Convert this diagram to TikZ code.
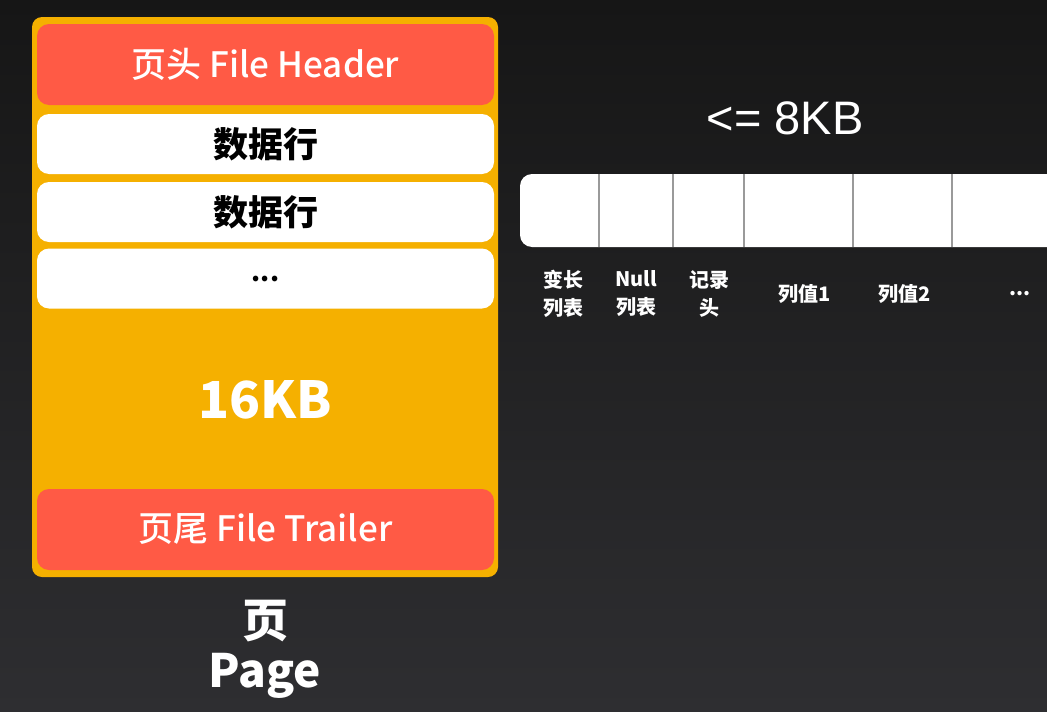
\documentclass[tikz,border=0pt]{standalone}
\usepackage{fontspec}
\setmainfont{Noto Sans CJK SC}
\newfontfamily\medfont{Noto Sans CJK SC Medium}
\newfontfamily\blackfont{Noto Sans CJK SC Black}
\newfontfamily\latinsans{Liberation Sans}
\begin{document}
\begin{tikzpicture}[x=1pt,y=-1pt,
  redbox/.style={fill=redc, rounded corners=12pt, minimum width=457pt, minimum height=81pt, inner sep=0pt, text=white, font=\medfont\fontsize{35}{35}\selectfont},
  rowbox/.style={fill=white, rounded corners=12pt, minimum width=457pt, minimum height=60pt, inner sep=0pt, text=black, font=\bfseries\fontsize{35}{35}\selectfont},
  cell/.style={minimum height=73pt, inner sep=0pt},
  divider/.style={draw=divc, line width=1.5pt},
  lbl/.style={text=white, align=center, font=\bfseries\fontsize{20}{28}\selectfont}
]
\definecolor{redc}{HTML}{FF5A45}
\definecolor{orangec}{HTML}{F5B000}
\definecolor{divc}{HTML}{9A9A9A}
\definecolor{bgtop}{HTML}{161616}
\definecolor{bgbot}{HTML}{2E2E31}
\useasboundingbox (0,0) rectangle (1047,712);
\clip (0,0) rectangle (1047,712);
\shade[top color=bgtop, bottom color=bgbot] (0,0) rectangle (1047,712);

% page
\fill[orangec, rounded corners=10pt] (32,17) rectangle (498,577);
\node[redbox] (header) at (265.5,64.5) {页头 File Header};
\node[rowbox] (row1) at (265.5,144) {数据行};
\node[rowbox] (row2) at (265.5,212) {数据行};
\node[rowbox, font=\bfseries\fontsize{26}{26}\selectfont] (row3) at (265.5,278.5) {...};
\node[text=white, font=\bfseries\fontsize{51}{51}\selectfont] (size) at (265,400) {16KB};
\node[redbox] (trailer) at (265.5,529.5) {页尾 File Trailer};
\node[text=white, font=\blackfont\fontsize{46}{46}\selectfont] (ye) at (265,621) {页};
\node[text=white, font=\blackfont\fontsize{46}{46}\selectfont] (page) at (265,676) {Page};

% record
\node[text=white, font=\latinsans\fontsize{47}{47}\selectfont] (limit) at (785,118) {<= 8KB};
\fill[white, rounded corners=12pt] (520,174) rectangle (1080,247);
\node[cell, minimum width=79pt] (vl) at (559.5,210.5) {};
\node[cell, minimum width=74pt] (nl) at (636,210.5) {};
\node[cell, minimum width=71pt] (rh) at (708.5,210.5) {};
\node[cell, minimum width=109pt] (v1) at (798.5,210.5) {};
\node[cell, minimum width=99pt] (v2) at (902.5,210.5) {};
\node[cell, minimum width=95pt] (vm) at (999.5,210.5) {};
\draw[divider] (vl.north east) -- (vl.south east);
\draw[divider] (nl.north east) -- (nl.south east);
\draw[divider, line width=2.5pt] (rh.north east) -- (rh.south east);
\draw[divider] (v1.north east) -- (v1.south east);
\draw[divider] (v2.north east) -- (v2.south east);

\node[lbl] (lvl) at (563,294) {变长\\列表};
\node[lbl] (lnl) at (636,294) {Null\\列表};
\node[lbl] (lrh) at (709,294) {记录\\头};
\node[lbl] (lv1) at (805,294) {列值1};
\node[lbl] (lv2) at (905,294) {列值2};
\node[lbl] (lvm) at (1020,294) {...};
\end{tikzpicture}
\end{document}
